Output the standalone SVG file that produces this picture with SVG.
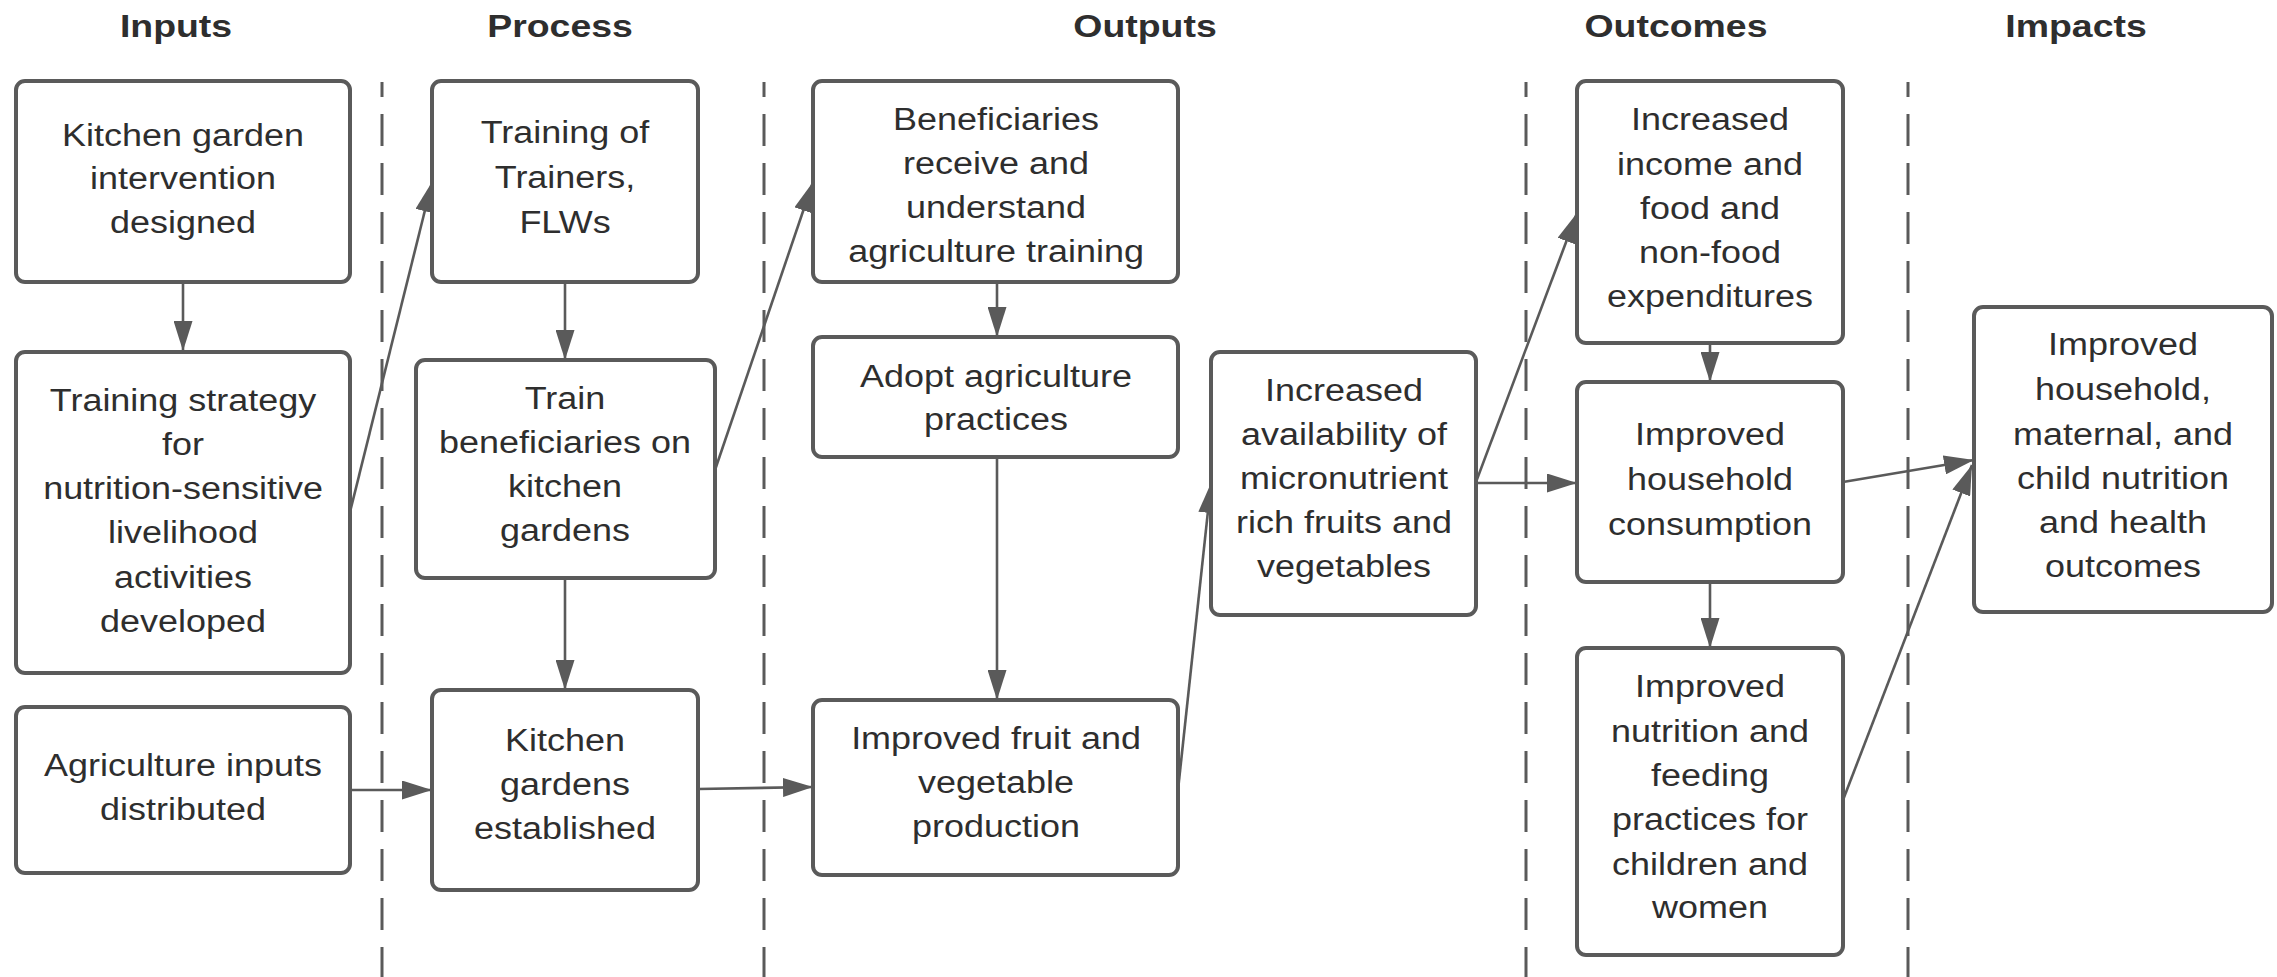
<svg xmlns="http://www.w3.org/2000/svg" width="2277" height="977" viewBox="0 0 2277 977">
<style>
.box{fill:#ffffff;stroke:#5a5a5a;stroke-width:4}
.t{font-family:"Liberation Sans",Arial,sans-serif;font-size:31px;fill:#2e2e2e;text-anchor:middle}
.h{font-family:"Liberation Sans",Arial,sans-serif;font-size:32px;font-weight:bold;fill:#2e2e2e;text-anchor:middle}
.c{fill:none;stroke:#5a5a5a;stroke-width:2.6}
.d{stroke:#5a5a5a;stroke-width:3;stroke-dasharray:32 17;stroke-dashoffset:17}
</style>
<defs>
<marker id="ah" markerWidth="30" markerHeight="19" refX="30" refY="9.5" orient="auto" markerUnits="userSpaceOnUse">
<path d="M0,0 L30,9.5 L0,19 z" fill="#5a5a5a"/>
</marker>
</defs>
<rect x="0" y="0" width="2277" height="977" fill="#ffffff"/>
<g id="headers">
<text class="h" transform="translate(176 0) scale(1.17 1)" x="0" y="37">Inputs</text>
<text class="h" transform="translate(560 0) scale(1.17 1)" x="0" y="37">Process</text>
<text class="h" transform="translate(1145 0) scale(1.17 1)" x="0" y="37">Outputs</text>
<text class="h" transform="translate(1676 0) scale(1.17 1)" x="0" y="37">Outcomes</text>
<text class="h" transform="translate(2076 0) scale(1.17 1)" x="0" y="37">Impacts</text>
</g>
<g id="dividers">
<line class="d" x1="382" y1="82" x2="382" y2="977"/>
<line class="d" x1="764" y1="82" x2="764" y2="977"/>
<line class="d" x1="1526" y1="82" x2="1526" y2="977"/>
<line class="d" x1="1908" y1="82" x2="1908" y2="977"/>
</g>
<g id="connectors">
<line class="c" x1="183" y1="282" x2="183" y2="351" marker-end="url(#ah)"/>
<line class="c" x1="350" y1="512" x2="432" y2="182" marker-end="url(#ah)"/>
<line class="c" x1="350" y1="790" x2="432" y2="790" marker-end="url(#ah)"/>
<line class="c" x1="565" y1="282" x2="565" y2="360" marker-end="url(#ah)"/>
<line class="c" x1="565" y1="578" x2="565" y2="690" marker-end="url(#ah)"/>
<line class="c" x1="715" y1="470" x2="813" y2="182" marker-end="url(#ah)"/>
<line class="c" x1="698" y1="789" x2="813" y2="787" marker-end="url(#ah)"/>
<line class="c" x1="997" y1="282" x2="997" y2="337" marker-end="url(#ah)"/>
<line class="c" x1="997" y1="457" x2="997" y2="700" marker-end="url(#ah)"/>
<line class="c" x1="1178" y1="790" x2="1211" y2="483" marker-end="url(#ah)"/>
<line class="c" x1="1476" y1="482" x2="1577" y2="213" marker-end="url(#ah)"/>
<line class="c" x1="1476" y1="483" x2="1577" y2="483" marker-end="url(#ah)"/>
<line class="c" x1="1710" y1="343" x2="1710" y2="382" marker-end="url(#ah)"/>
<line class="c" x1="1710" y1="582" x2="1710" y2="648" marker-end="url(#ah)"/>
<line class="c" x1="1843" y1="482" x2="1974" y2="460" marker-end="url(#ah)"/>
<line class="c" x1="1843" y1="800" x2="1972" y2="465" marker-end="url(#ah)"/>
</g>
<g id="n1">
<rect class="box" x="16" y="81" width="334" height="201" rx="9"/>
<text class="t" transform="translate(183 0) scale(1.16 1)"><tspan x="0" y="146">Kitchen garden</tspan><tspan x="0" y="189">intervention</tspan><tspan x="0" y="233">designed</tspan></text>
</g>
<g id="n2">
<rect class="box" x="16" y="352" width="334" height="321" rx="9"/>
<text class="t" transform="translate(183 0) scale(1.16 1)"><tspan x="0" y="411">Training strategy</tspan><tspan x="0" y="455">for</tspan><tspan x="0" y="499">nutrition-sensitive</tspan><tspan x="0" y="543">livelihood</tspan><tspan x="0" y="588">activities</tspan><tspan x="0" y="632">developed</tspan></text>
</g>
<g id="n3">
<rect class="box" x="16" y="707" width="334" height="166" rx="9"/>
<text class="t" transform="translate(183 0) scale(1.16 1)"><tspan x="0" y="776">Agriculture inputs</tspan><tspan x="0" y="820">distributed</tspan></text>
</g>
<g id="p1">
<rect class="box" x="432" y="81" width="266" height="201" rx="9"/>
<text class="t" transform="translate(565 0) scale(1.16 1)"><tspan x="0" y="143">Training of</tspan><tspan x="0" y="188">Trainers,</tspan><tspan x="0" y="233">FLWs</tspan></text>
</g>
<g id="p2">
<rect class="box" x="416" y="360" width="299" height="218" rx="9"/>
<text class="t" transform="translate(565 0) scale(1.16 1)"><tspan x="0" y="409">Train</tspan><tspan x="0" y="453">beneficiaries on</tspan><tspan x="0" y="497">kitchen</tspan><tspan x="0" y="541">gardens</tspan></text>
</g>
<g id="p3">
<rect class="box" x="432" y="690" width="266" height="200" rx="9"/>
<text class="t" transform="translate(565 0) scale(1.16 1)"><tspan x="0" y="751">Kitchen</tspan><tspan x="0" y="795">gardens</tspan><tspan x="0" y="839">established</tspan></text>
</g>
<g id="o1">
<rect class="box" x="813" y="81" width="365" height="201" rx="9"/>
<text class="t" transform="translate(996 0) scale(1.16 1)"><tspan x="0" y="130">Beneficiaries</tspan><tspan x="0" y="174">receive and</tspan><tspan x="0" y="218">understand</tspan><tspan x="0" y="262">agriculture training</tspan></text>
</g>
<g id="o2">
<rect class="box" x="813" y="337" width="365" height="120" rx="9"/>
<text class="t" transform="translate(996 0) scale(1.16 1)"><tspan x="0" y="387">Adopt agriculture</tspan><tspan x="0" y="430">practices</tspan></text>
</g>
<g id="o3">
<rect class="box" x="813" y="700" width="365" height="175" rx="9"/>
<text class="t" transform="translate(996 0) scale(1.16 1)"><tspan x="0" y="749">Improved fruit and</tspan><tspan x="0" y="793">vegetable</tspan><tspan x="0" y="837">production</tspan></text>
</g>
<g id="o4">
<rect class="box" x="1211" y="352" width="265" height="263" rx="9"/>
<text class="t" transform="translate(1344 0) scale(1.16 1)"><tspan x="0" y="401">Increased</tspan><tspan x="0" y="445">availability of</tspan><tspan x="0" y="489">micronutrient</tspan><tspan x="0" y="533">rich fruits and</tspan><tspan x="0" y="577">vegetables</tspan></text>
</g>
<g id="c1">
<rect class="box" x="1577" y="81" width="266" height="262" rx="9"/>
<text class="t" transform="translate(1710 0) scale(1.16 1)"><tspan x="0" y="130">Increased</tspan><tspan x="0" y="175">income and</tspan><tspan x="0" y="219">food and</tspan><tspan x="0" y="263">non-food</tspan><tspan x="0" y="307">expenditures</tspan></text>
</g>
<g id="c2">
<rect class="box" x="1577" y="382" width="266" height="200" rx="9"/>
<text class="t" transform="translate(1710 0) scale(1.16 1)"><tspan x="0" y="445">Improved</tspan><tspan x="0" y="490">household</tspan><tspan x="0" y="535">consumption</tspan></text>
</g>
<g id="c3">
<rect class="box" x="1577" y="648" width="266" height="307" rx="9"/>
<text class="t" transform="translate(1710 0) scale(1.16 1)"><tspan x="0" y="697">Improved</tspan><tspan x="0" y="742">nutrition and</tspan><tspan x="0" y="786">feeding</tspan><tspan x="0" y="830">practices for</tspan><tspan x="0" y="875">children and</tspan><tspan x="0" y="918">women</tspan></text>
</g>
<g id="i1">
<rect class="box" x="1974" y="307" width="298" height="305" rx="9"/>
<text class="t" transform="translate(2123 0) scale(1.16 1)"><tspan x="0" y="355">Improved</tspan><tspan x="0" y="400">household,</tspan><tspan x="0" y="445">maternal, and</tspan><tspan x="0" y="489">child nutrition</tspan><tspan x="0" y="533">and health</tspan><tspan x="0" y="577">outcomes</tspan></text>
</g>
</svg>
